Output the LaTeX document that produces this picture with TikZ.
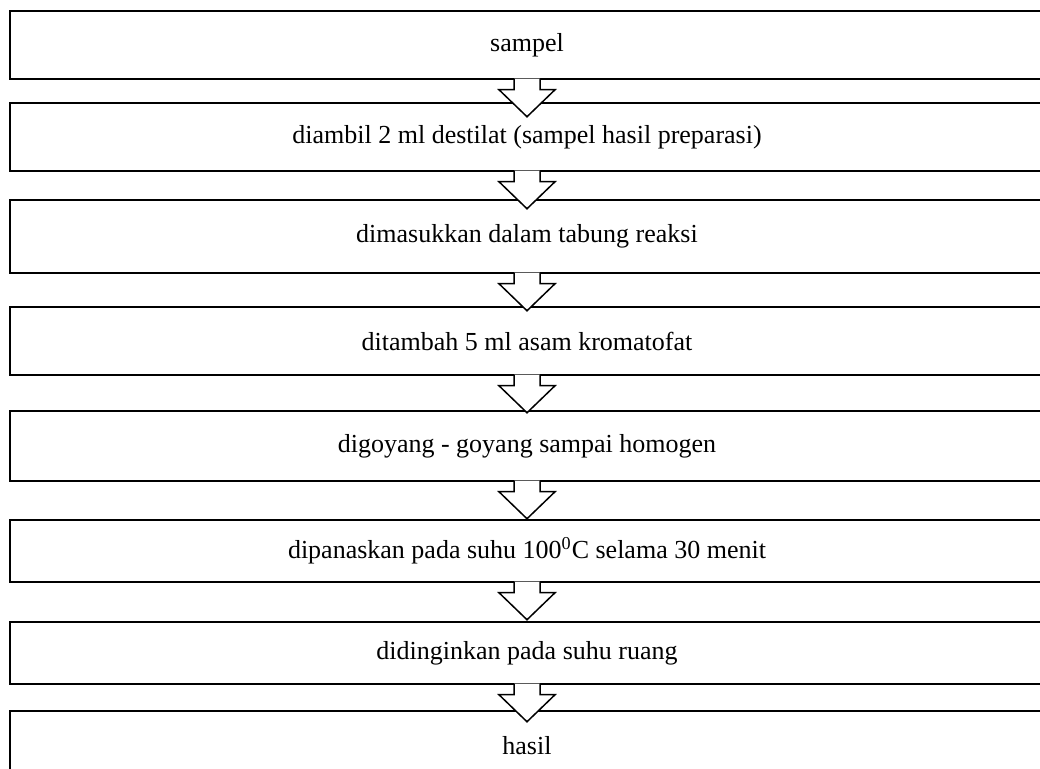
\documentclass[tikz,border=0pt]{standalone}
\usepackage{fontspec}
\setmainfont{Liberation Serif}
\begin{document}
\begin{tikzpicture}[x=0.5pt,y=-0.5pt,
  stepbox/.style={draw, line width=0.75pt, rectangle, minimum width=517pt,
    inner sep=0pt, font=\fontsize{13}{15}\selectfont},
  flowarrow/.pic={
    \draw[line width=0.75pt, fill=white, line join=miter]
      (-13,-1) -- (-13,10) -- (-28,10) -- (0,37) -- (28,10) -- (13,10) -- (13,-1);
  }]
\clip (0,0) rectangle (1040,769);
\fill[white] (0,0) rectangle (1040,769);

% process steps
\node[stepbox, minimum height=34pt]   (b1) at (527,45)    {sampel};
\node[stepbox, minimum height=34pt]   (b2) at (527,137)   {diambil 2 ml destilat (sampel hasil preparasi)};
\node[stepbox, minimum height=36.5pt] (b3) at (527,236.5) {dimasukkan dalam tabung reaksi};
\node[stepbox, minimum height=34pt]   (b4) at (527,341)   {ditambah 5 ml asam kromatofat};
\node[stepbox, minimum height=35pt]   (b5) at (527,446)   {digoyang - goyang sampai homogen};
\node[stepbox, minimum height=31pt]   (b6) at (527,551)   {dipanaskan pada suhu 100\textsuperscript{0}C selama 30 menit};
\node[stepbox, minimum height=31pt]   (b7) at (527,653)   {didinginkan pada suhu ruang};
\node[stepbox, minimum height=35pt]   (b8) at (527,746)   {hasil};

% block arrows between consecutive steps
\foreach \s in {b1,b2,b3,b4,b5,b6,b7}
  \pic at (\s.south) {flowarrow};
\end{tikzpicture}
\end{document}
